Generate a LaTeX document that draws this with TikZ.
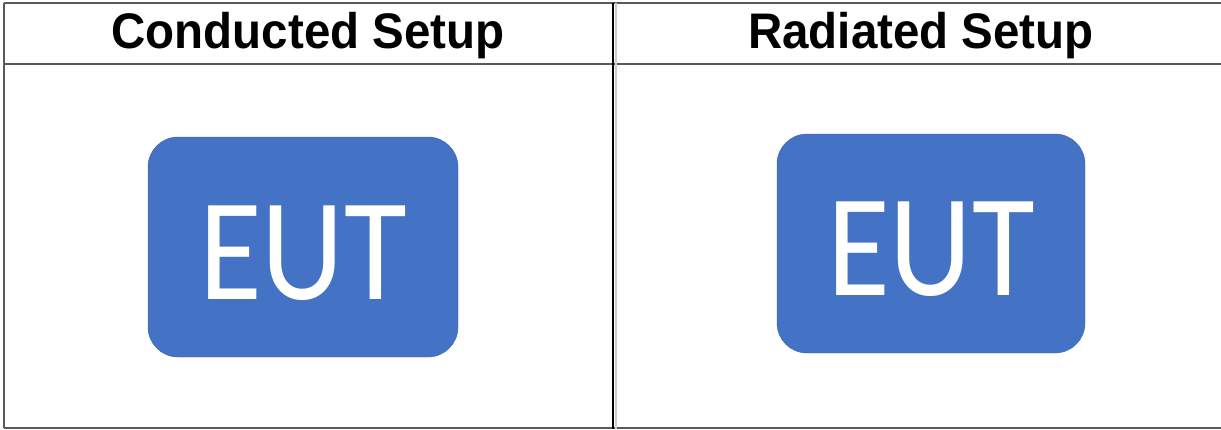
\documentclass[tikz,border=0pt]{standalone}
\usepackage{fontspec}
\setmainfont{Liberation Sans}
\newfontfamily\eutfont{Carlito}
\usetikzlibrary{positioning}
\definecolor{eutblue}{RGB}{68,114,196}
\definecolor{eutedge}{RGB}{58,98,170}
\definecolor{rulegray}{RGB}{90,90,90}

\begin{document}
\begin{tikzpicture}[
    x=1pt, y=-1pt,
    head/.style={inner sep=0pt, font=\fontsize{50}{50}\selectfont\bfseries},
    eut/.style={draw=eutedge, fill=eutblue, rounded corners=30pt, inner sep=0pt,
        text=white, font=\fontsize{146}{146}\eutfont},
    rule/.style={draw=rulegray, line width=2pt}
]
\useasboundingbox (0,0) rectangle (1221,429);

% table lines
\draw[rule] (4,3) -- (1221,3);
\draw[rule] (4,64) -- (1221,64);
\draw[rule] (4,428) -- (1221,428);
\draw[rule] (4,3) -- (4,428);
\draw[draw=black, line width=2pt] (613,3) -- (613,429);
\draw[draw=black!20, line width=2pt] (616,3) -- (616,429);

% headers
\node[head] (headL) at (308,36) {\scalebox{0.95}[1]{Conducted Setup}};
\node[head] (headR) at (921,36) {\scalebox{0.95}[1]{Radiated Setup}};

% EUT boxes
\node[eut, minimum width=310pt, minimum height=220pt] (eutL) at (303,247) {\raisebox{-6pt}[\height][\depth]{\scalebox{0.88}[1]{EUT}}};
\node[eut, minimum width=308pt, minimum height=219pt] (eutR) at (931,243.5) {\raisebox{-6pt}[\height][\depth]{\scalebox{0.88}[1]{EUT}}};
\end{tikzpicture}
\end{document}
